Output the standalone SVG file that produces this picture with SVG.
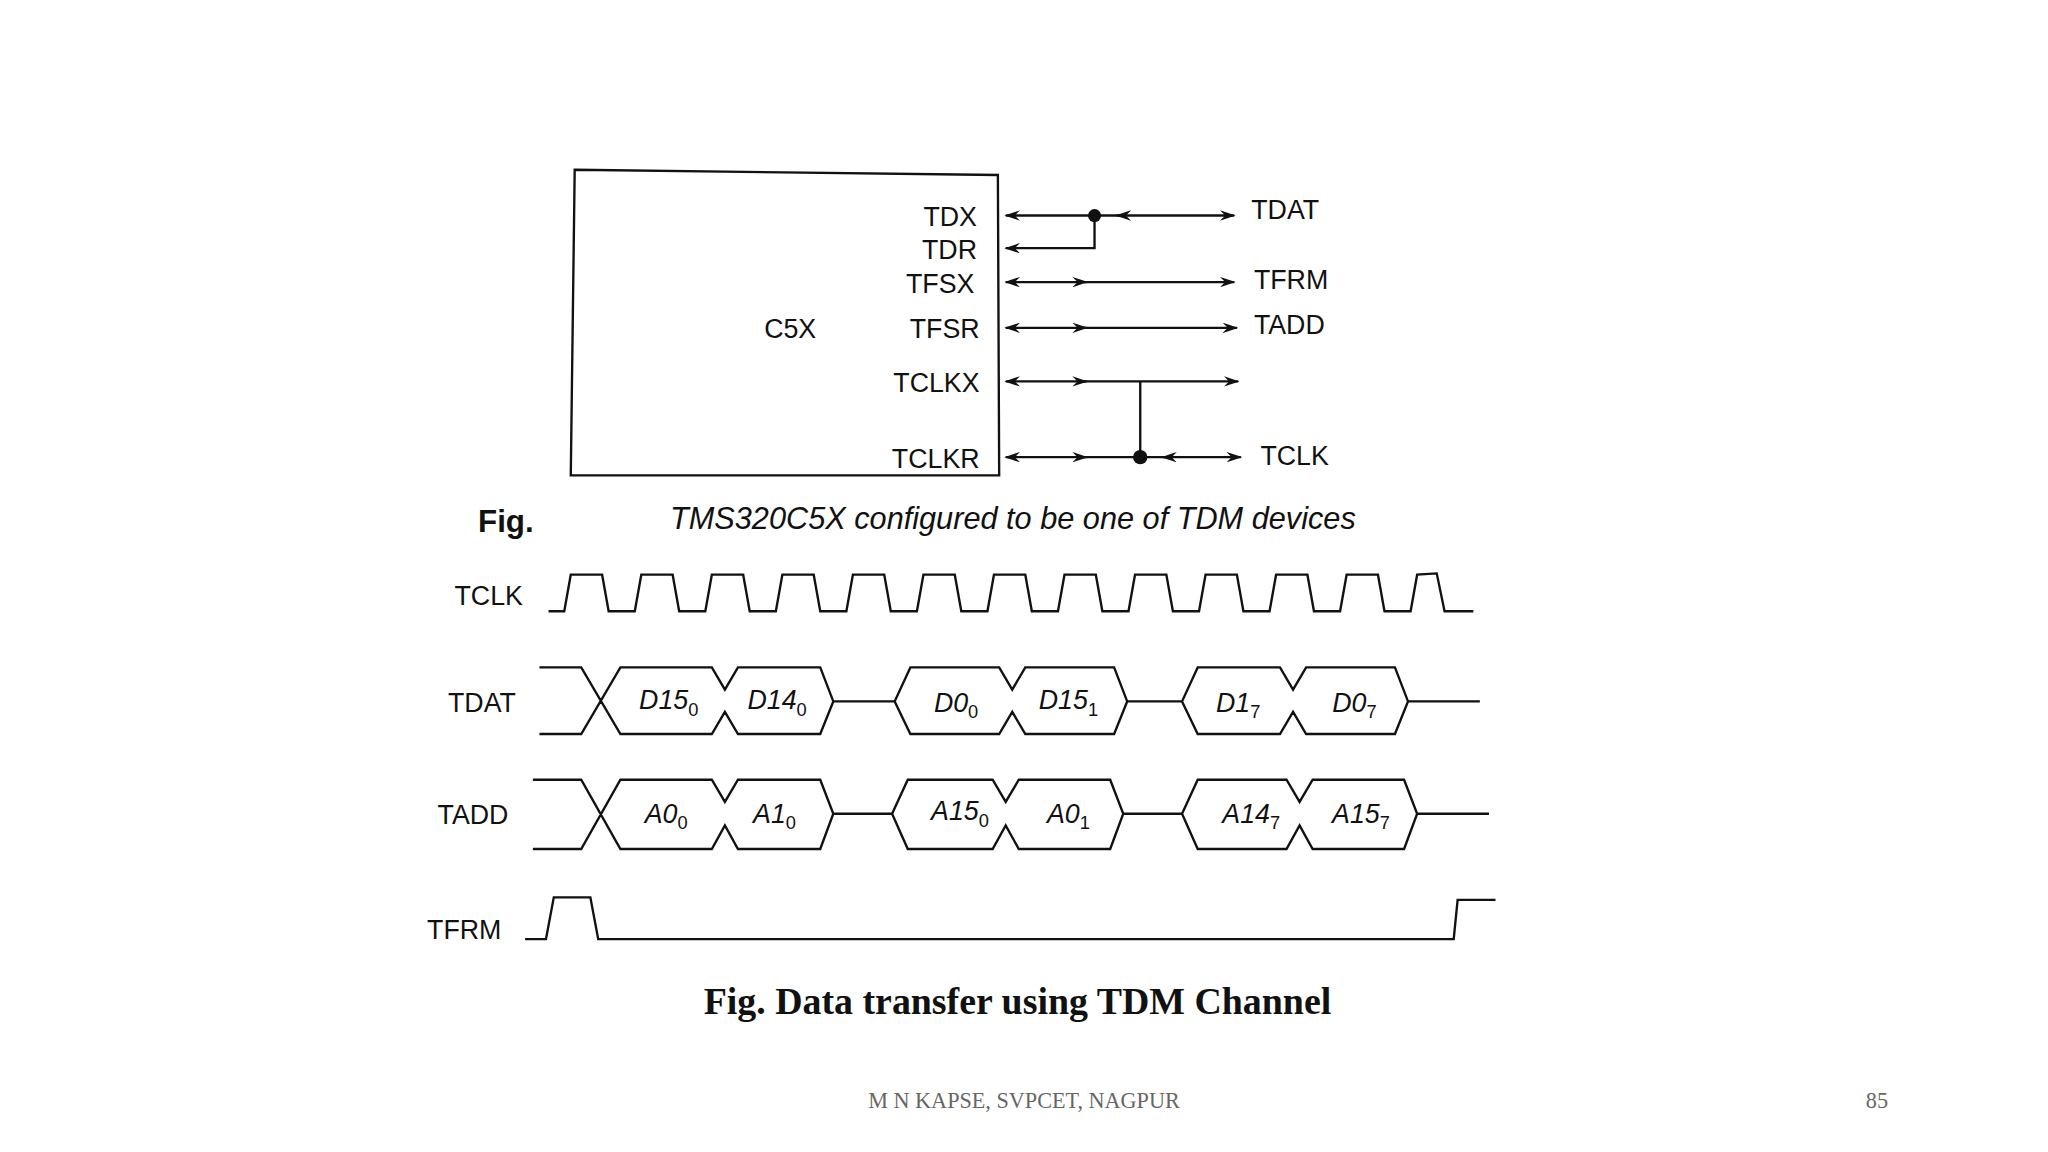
<svg xmlns="http://www.w3.org/2000/svg" width="2048" height="1152" viewBox="0 0 2048 1152">
<defs>
<style>
.s{font-family:"Liberation Sans",Arial,sans-serif;font-size:20.5px;fill:#111}
.i{font-family:"Liberation Sans",Arial,sans-serif;font-size:20.5px;font-style:italic;fill:#111}
.sub{font-size:14px;font-style:normal}
.w{fill:none;stroke:#111;stroke-width:1.8}
</style>
<marker id="ah" viewBox="0 0 12 8" refX="11" refY="4" markerWidth="12" markerHeight="8" markerUnits="userSpaceOnUse" orient="auto-start-reverse"><path d="M0,0 L12,4 L0,8 L4,4 z" fill="#111"/></marker>
</defs>
<rect width="2048" height="1152" fill="#fff"/>
<g transform="scale(1.30612)">
<g id="c5x">
<path class="w" d="M440,130 L764,134 L765,364 L437,364 Z"/>
<text class="s" x="605" y="259" text-anchor="middle">C5X</text>
<g class="s" text-anchor="end">
<text x="748" y="173">TDX</text><text x="748" y="198">TDR</text><text x="746" y="224">TFSX</text>
<text x="750" y="259">TFSR</text><text x="750" y="300">TCLKX</text><text x="750" y="358">TCLKR</text>
</g>
</g>
<g id="outputs" class="s">
<text x="958" y="168">TDAT</text><text x="960" y="221">TFRM</text><text x="960" y="256">TADD</text><text x="965" y="356">TCLK</text>
</g>
<g id="connectors" class="w">
<path d="M770,165 L858,165" marker-start="url(#ah)"/>
<path d="M855,165 L945,165" marker-start="url(#ah)" marker-end="url(#ah)"/>
<path d="M770,190 L838,190 L838,165" marker-start="url(#ah)"/>
<path d="M770,216 L832,216" marker-start="url(#ah)" marker-end="url(#ah)"/><path d="M830,216 L945,216" marker-end="url(#ah)"/>
<path d="M770,251 L832,251" marker-start="url(#ah)" marker-end="url(#ah)"/><path d="M830,251 L947,251" marker-end="url(#ah)"/>
<path d="M770,292 L832,292" marker-start="url(#ah)" marker-end="url(#ah)"/><path d="M830,292 L948,292" marker-end="url(#ah)"/>
<path d="M873,292 L873,350"/>
<path d="M770,350 L832,350" marker-start="url(#ah)" marker-end="url(#ah)"/><path d="M830,350 L895,350"/>
<path d="M890,350 L950,350" marker-start="url(#ah)" marker-end="url(#ah)"/>
<circle cx="838" cy="165" r="5" fill="#111" stroke="none"/>
<circle cx="873" cy="350" r="5.5" fill="#111" stroke="none"/>
</g>
<text x="366" y="407" font-family="Liberation Sans,Arial,sans-serif" font-weight="bold" font-size="24" fill="#111">Fig.</text>
<text x="513" y="405" font-family="Liberation Sans,Arial,sans-serif" font-style="italic" font-size="23.5" fill="#111">TMS320C5X configured to be one of TDM devices</text>
<g id="timing">
<g class="s"><text x="348" y="463">TCLK</text><text x="343" y="545">TDAT</text><text x="335" y="631">TADD</text><text x="327" y="719">TFRM</text></g>
<path class="w" d="M420,468 L432,468 L437,440 L461,440 L466,468 L486,468 L491,440 L515,440 L520,468 L540,468 L545,440 L569,440 L574,468 L594,468 L599,440 L623,440 L628,468 L648,468 L653,440 L677,440 L682,468 L702,468 L707,440 L731,440 L736,468 L756,468 L761,440 L785,440 L790,468 L810,468 L815,440 L839,440 L844,468 L864,468 L869,440 L893,440 L898,468 L918,468 L923,440 L947,440 L952,468 L972,468 L977,440 L1001,440 L1006,468 L1026,468 L1031,440 L1055,440 L1060,468 L1080,468 L1085,440 L1100,439 L1106,468 L1128,468"/>
<path class="w" d="M413,511 L445,511 L475,562 L545,562 L555,545 L565,562 L628,562 L638,537 L628,511 L565,511 L555,528 L545,511 L475,511 L445,562 L413,562 M638,537 L685,537 L697,511 L765,511 L775,528 L785,511 L853,511 L863,537 L853,562 L785,562 L775,545 L765,562 L697,562 L685,537 M863,537 L905,537 L917,511 L980,511 L990,528 L1000,511 L1068,511 L1078,537 L1068,562 L1000,562 L990,545 L980,562 L917,562 L905,537 M1078,537 L1133,537"/>
<path class="w" d="M408,597 L445,597 L475,650 L545,650 L555,632 L565,650 L628,650 L638,623 L628,597 L565,597 L555,614 L545,597 L475,597 L445,650 L408,650 M638,623 L683,623 L695,597 L760,597 L770,614 L780,597 L850,597 L860,623 L850,650 L780,650 L770,632 L760,650 L695,650 L683,623 M860,623 L905,623 L917,597 L985,597 L995,614 L1005,597 L1075,597 L1085,623 L1075,650 L1005,650 L995,632 L985,650 L917,650 L905,623 M1085,623 L1140,623"/>
<path class="w" d="M402,719 L418,719 L424,687 L452,687 L458,719 L1113,719 L1116,689 L1145,689"/>
<g class="i" text-anchor="middle">
<text x="512" y="543">D15<tspan class="sub" dy="5">0</tspan></text>
<text x="595" y="543">D14<tspan class="sub" dy="5">0</tspan></text>
<text x="732" y="545">D0<tspan class="sub" dy="5">0</tspan></text>
<text x="818" y="543">D15<tspan class="sub" dy="5">1</tspan></text>
<text x="948" y="545">D1<tspan class="sub" dy="5">7</tspan></text>
<text x="1037" y="545">D0<tspan class="sub" dy="5">7</tspan></text>
<text x="510" y="630">A0<tspan class="sub" dy="5">0</tspan></text>
<text x="593" y="630">A1<tspan class="sub" dy="5">0</tspan></text>
<text x="735" y="628">A15<tspan class="sub" dy="5">0</tspan></text>
<text x="818" y="630">A0<tspan class="sub" dy="5">1</tspan></text>
<text x="958" y="630">A14<tspan class="sub" dy="5">7</tspan></text>
<text x="1042" y="630">A15<tspan class="sub" dy="5">7</tspan></text>
</g>
</g>
<text x="779" y="776" text-anchor="middle" font-family="Liberation Serif,serif" font-weight="bold" font-size="29" fill="#111">Fig. Data transfer using TDM Channel</text>
<text x="784" y="848" text-anchor="middle" font-family="Liberation Serif,serif" font-size="17" fill="#666">M N KAPSE, SVPCET, NAGPUR</text>
<text x="1437" y="848" text-anchor="middle" font-family="Liberation Serif,serif" font-size="17" fill="#666">85</text>
</g>
</svg>
